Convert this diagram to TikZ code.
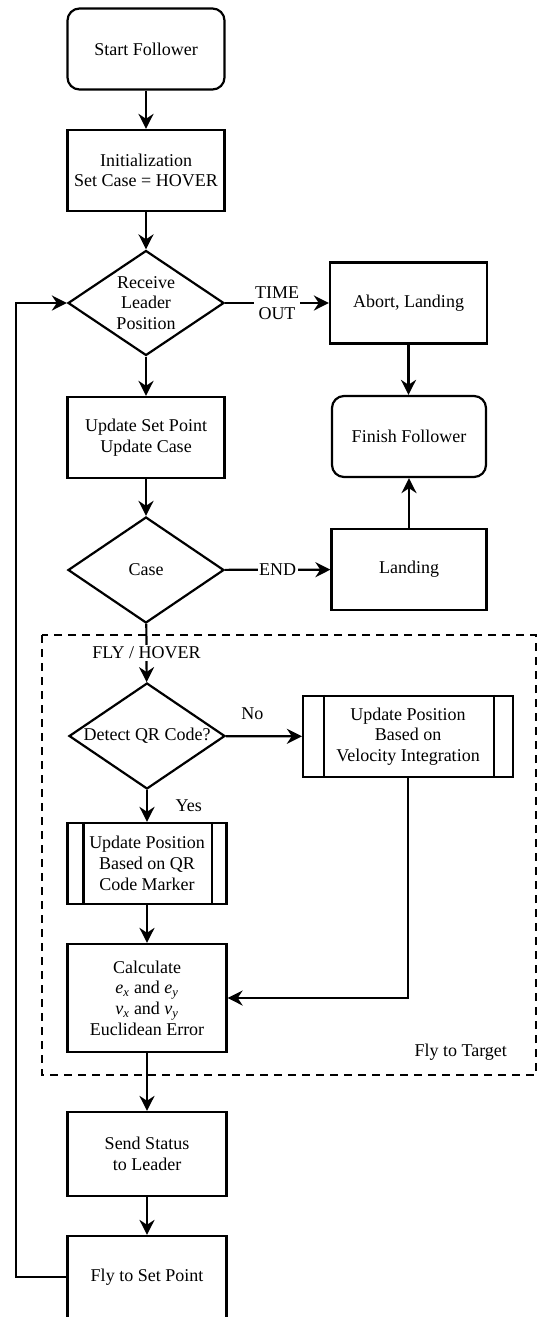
\documentclass[tikz,border=0pt]{standalone}
\usepackage{fontspec}
\setmainfont{Liberation Serif}
\usetikzlibrary{shapes.geometric, arrows.meta}

\begin{document}
\begin{tikzpicture}[x=1pt, y=-1pt, line width=2.2pt,
  font=\fontsize{18pt}{20.7pt}\selectfont,
  process/.style={rectangle, draw, minimum width=157pt, minimum height=81pt, align=center, inner sep=2pt},
  terminal/.style={process, rounded corners=12pt},
  decision/.style={diamond, draw, minimum width=156pt, minimum height=105pt, aspect=1.5, inner sep=0pt, align=center},
  flow/.style={-{Stealth[length=15pt, width=15pt]}},
  lbl/.style={fill=white, inner sep=1.5pt, align=center}]
  \useasboundingbox (0,0) rectangle (537,1317);

  % group frame
  \draw[dash pattern=on 8pt off 6pt] (42,635) rectangle (536,1075);
  \node[anchor=east, inner sep=0pt] (target) at (508,1052) {Fly to Target};

  \node [terminal] (start) at (146,49) {Start Follower};
  \node [process] (init) at (146,170.5) {Initialization\\Set Case = HOVER};
  \node [decision] (recv) at (146,303) {Receive\\Leader\\Position};
  \node [process] (abort) at (408.5,303) {Abort, Landing};
  \node [process] (upd) at (146,437.5) {Update Set Point\\Update Case};
  \node [terminal, minimum width=154pt] (finish) at (409,436.5) {Finish Follower};
  \node [decision, minimum height=106pt] (case) at (146,570) {Case};
  \node [process, minimum width=155pt] (land) at (409,569.5) {Landing};
  \node [decision, minimum height=106pt] (qr) at (147,736) {Detect QR Code?};
  \node [process, minimum width=210pt] (velpos) at (408,736.5) {Update Position\\Based on\\Velocity Integration};
  \node [process, minimum width=159pt] (qrpos) at (147,863.5) {Update Position\\Based on QR\\Code Marker};
  \node [process, minimum width=159pt, minimum height=108pt] (calc) at (147,998)
    {Calculate\\\textit{e}\textsubscript{\textit{x}} and \textit{e}\textsubscript{\textit{y}}\\\textit{v}\textsubscript{\textit{x}} and \textit{v}\textsubscript{\textit{y}}\\Euclidean Error};
  \node [process, minimum width=159pt, minimum height=84pt] (send) at (147,1154) {Send Status\\to Leader};
  \node [process, minimum width=159pt, minimum height=82pt] (fly) at (147,1277) {Fly to Set Point};
  \coordinate (loopcorner) at (16,1277);

  % predefined process bars
  \draw ([xshift=22pt]velpos.north west) -- ([xshift=22pt]velpos.south west);
  \draw ([xshift=-20pt]velpos.north east) -- ([xshift=-20pt]velpos.south east);
  \draw ([xshift=17pt]qrpos.north west) -- ([xshift=17pt]qrpos.south west);
  \draw ([xshift=-16pt]qrpos.north east) -- ([xshift=-16pt]qrpos.south east);

  \draw[flow] (start) -- (init);
  \draw[flow] (init) -- (recv);
  \draw[flow] (recv) -- node[lbl] {TIME\\OUT} (abort);
  \draw[flow] (recv) -- (upd);
  \draw[flow] (abort) -- (abort |- finish.north);
  \draw[flow] (upd) -- (case);
  \draw[flow] (case) -- node[lbl] {END} (land);
  \draw[flow] (land) -- (finish);
  \draw[flow] (case) -- node[lbl] {FLY / HOVER} (qr);
  \draw[flow] (qr) -- node[lbl, pos=0.35, above=14pt] {No} (velpos);
  \draw[flow] (qr) -- node[lbl, right=26pt] {Yes} (qrpos);
  \draw[flow] (qrpos) -- (calc);
  \draw[flow] (velpos.south) |- (calc.east);
  \draw[flow] (calc) -- (send);
  \draw[flow] (send) -- (fly);
  \draw[flow] (fly.west) -- (loopcorner) |- (recv.west);
\end{tikzpicture}
\end{document}
